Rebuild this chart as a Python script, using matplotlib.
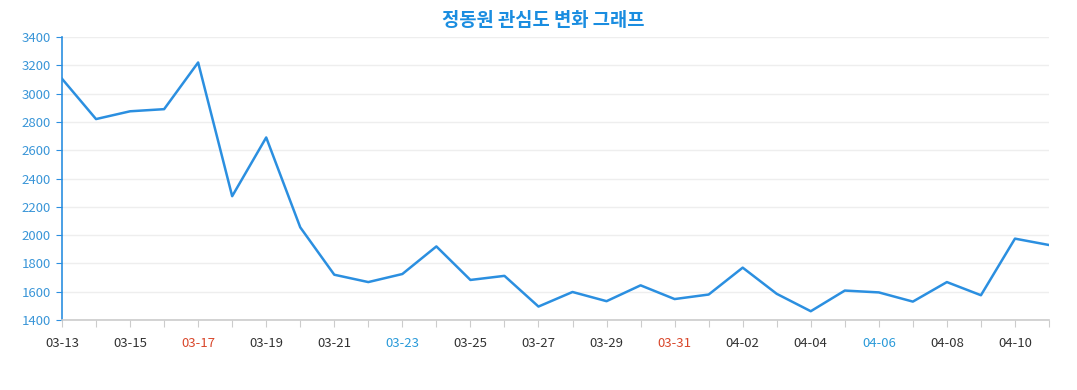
import matplotlib
matplotlib.use("Agg")
import matplotlib.pyplot as plt

plt.rcParams['font.family'] = ['Noto Sans CJK KR', 'DejaVu Sans']

# 날짜별 관심도
dates = ["03-13", "03-14", "03-15", "03-16", "03-17", "03-18", "03-19", "03-20",
         "03-21", "03-22", "03-23", "03-24", "03-25", "03-26", "03-27", "03-28",
         "03-29", "03-30", "03-31", "04-01", "04-02", "04-03", "04-04", "04-05",
         "04-06", "04-07", "04-08", "04-09", "04-10", "04-11"]
values = [3105, 2820, 2875, 2890, 3220, 2275, 2690, 2055,
          1720, 1668, 1725, 1920, 1683, 1712, 1495, 1598,
          1533, 1645, 1548, 1580, 1770, 1585, 1462, 1608,
          1595, 1530, 1668, 1575, 1975, 1930]
red_days = ["03-17", "03-31"]
blue_days = ["03-23", "04-06"]

fig = plt.figure(figsize=(10.77, 3.9), dpi=100)
ax = fig.add_axes([62 / 1077, 1 - 320 / 390, (1049 - 62) / 1077, (320 - 37) / 390])

x = list(range(len(dates)))
ax.plot(x, values, color="#2b8fe0", linewidth=1.8)

ax.set_xlim(0, len(dates) - 1)
ax.set_ylim(1400, 3400)
ax.set_yticks(range(1400, 3401, 200))
ax.grid(axis="y", color="#eeeeee", linewidth=1)
ax.set_axisbelow(True)

ax.set_xticks(x)
ax.set_xticklabels([d if i % 2 == 0 else "" for i, d in enumerate(dates)])
for lab, d in zip(ax.get_xticklabels(), dates):
    if d in red_days:
        lab.set_color("#d9472b")
    elif d in blue_days:
        lab.set_color("#2a9ad9")
    else:
        lab.set_color("#333333")

ax.tick_params(axis="x", length=5, color="#cccccc", labelsize=9.5, pad=7)
ax.tick_params(axis="y", length=4, color="#2b8fe0", labelcolor="#3a96d8", labelsize=9.5, pad=4)

for s in ["top", "right"]:
    ax.spines[s].set_visible(False)
ax.spines["left"].set_color("#2b8fe0")
ax.spines["left"].set_linewidth(1.2)
ax.spines["bottom"].set_color("#cccccc")
ax.spines["bottom"].set_linewidth(1.2)

fig.text(543 / 1077, 1 - 21 / 390, "정동원 관심도 변화 그래프", ha="center", va="center",
         fontsize=13.5, fontweight="bold", color="#1a8de0")

fig.savefig("out.png", dpi=100)
